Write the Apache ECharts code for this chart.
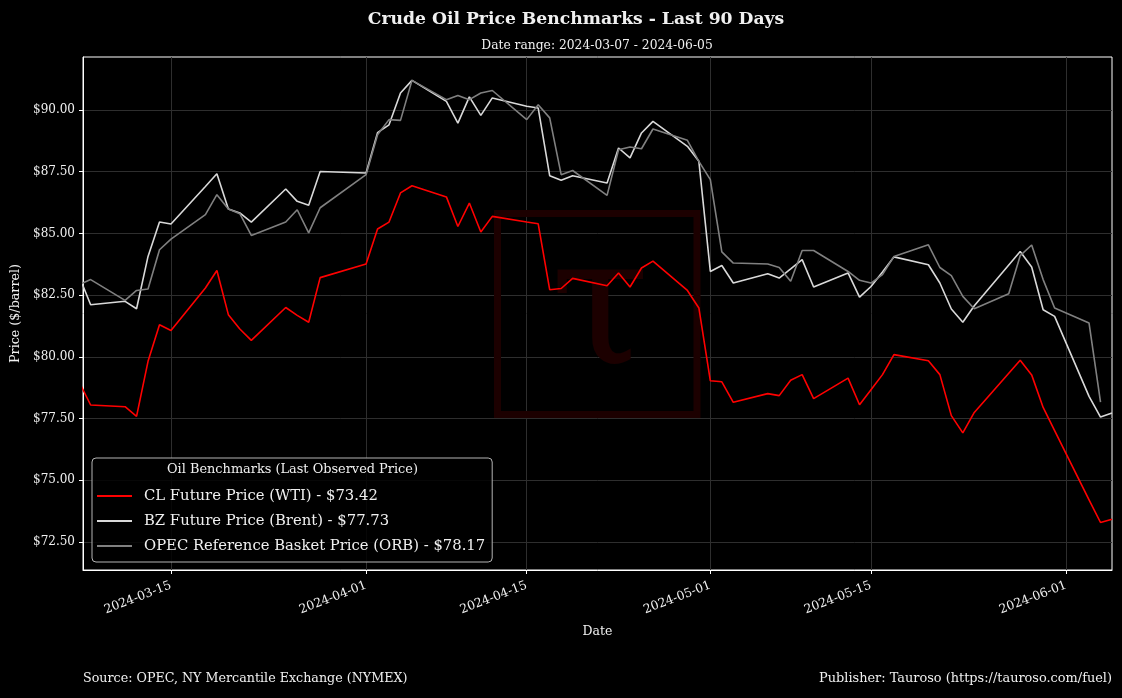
<!DOCTYPE html>
<html>
<head>
<meta charset="utf-8">
<title>Crude Oil Price Benchmarks - Last 90 Days</title>
<script src="https://cdn.jsdelivr.net/npm/echarts@6/dist/echarts.min.js"></script>
<style>
  html, body { margin: 0; padding: 0; background: #000; }
  #chart { width: 1122px; height: 698px; }
</style>
</head>
<body>
<div id="chart"></div>
<script>
  // trading days shared by the two NYMEX futures
  var nymexDates = [
    '2024-03-07', '2024-03-08', '2024-03-11', '2024-03-12', '2024-03-13', '2024-03-14', '2024-03-15',
    '2024-03-18', '2024-03-19', '2024-03-20', '2024-03-21', '2024-03-22', '2024-03-25', '2024-03-26',
    '2024-03-27', '2024-03-28', '2024-04-01', '2024-04-02', '2024-04-03', '2024-04-04', '2024-04-05',
    '2024-04-08', '2024-04-09', '2024-04-10', '2024-04-11', '2024-04-12', '2024-04-15', '2024-04-16',
    '2024-04-17', '2024-04-18', '2024-04-19', '2024-04-22', '2024-04-23', '2024-04-24', '2024-04-25',
    '2024-04-26', '2024-04-29', '2024-04-30', '2024-05-01', '2024-05-02', '2024-05-03', '2024-05-06',
    '2024-05-07', '2024-05-08', '2024-05-09', '2024-05-10', '2024-05-13', '2024-05-14', '2024-05-15',
    '2024-05-16', '2024-05-17', '2024-05-20', '2024-05-21', '2024-05-22', '2024-05-23', '2024-05-24',
    '2024-05-28', '2024-05-29', '2024-05-30', '2024-05-31', '2024-06-03', '2024-06-04', '2024-06-05'
  ];
  var wtiPrices = [
    78.98, 78.05, 77.98, 77.59, 79.82, 81.30, 81.07,
    82.79, 83.50, 81.71, 81.13, 80.67, 82.00, 81.68,
    81.40, 83.21, 83.76, 85.18, 85.46, 86.64, 86.93,
    86.48, 85.28, 86.23, 85.06, 85.69, 85.46, 85.39,
    82.72, 82.77, 83.18, 82.88, 83.40, 82.83, 83.60,
    83.88, 82.69, 81.98, 79.03, 78.99, 78.16, 78.51,
    78.43, 79.05, 79.28, 78.31, 79.14, 78.06, 78.67,
    79.28, 80.09, 79.84, 79.28, 77.62, 76.92, 77.75,
    79.86, 79.27, 77.95, 77.01, 74.21, 73.29, 73.42
  ];
  var brentPrices = [
    83.26, 82.11, 82.25, 81.95, 84.07, 85.46, 85.38,
    86.90, 87.42, 85.99, 85.83, 85.46, 86.80, 86.30,
    86.14, 87.51, 87.45, 89.08, 89.40, 90.69, 91.20,
    90.35, 89.47, 90.53, 89.78, 90.49, 90.15, 90.08,
    87.34, 87.15, 87.34, 87.04, 88.46, 88.06, 89.07,
    89.54, 88.53, 87.92, 83.46, 83.70, 82.99, 83.37,
    83.19, 83.56, 83.94, 82.83, 83.40, 82.42, 82.85,
    83.44, 84.05, 83.73, 82.99, 81.94, 81.40, 82.07,
    84.27, 83.64, 81.91, 81.64, 78.40, 77.56, 77.73
  ];
  // OPEC basket is published on its own calendar
  var opecDates = [
    '2024-03-07', '2024-03-08', '2024-03-11', '2024-03-12', '2024-03-13', '2024-03-14', '2024-03-15',
    '2024-03-18', '2024-03-19', '2024-03-20', '2024-03-21', '2024-03-22', '2024-03-25', '2024-03-26',
    '2024-03-27', '2024-03-28', '2024-04-01', '2024-04-02', '2024-04-03', '2024-04-04', '2024-04-05',
    '2024-04-08', '2024-04-09', '2024-04-10', '2024-04-11', '2024-04-12', '2024-04-15', '2024-04-16',
    '2024-04-17', '2024-04-18', '2024-04-19', '2024-04-22', '2024-04-23', '2024-04-24', '2024-04-25',
    '2024-04-26', '2024-04-29', '2024-04-30', '2024-05-01', '2024-05-02', '2024-05-03', '2024-05-06',
    '2024-05-07', '2024-05-08', '2024-05-09', '2024-05-10', '2024-05-13', '2024-05-14', '2024-05-15',
    '2024-05-16', '2024-05-17', '2024-05-20', '2024-05-21', '2024-05-22', '2024-05-23', '2024-05-24',
    '2024-05-27', '2024-05-28', '2024-05-29', '2024-05-30', '2024-05-31', '2024-06-03', '2024-06-04'
  ];
  var opecPrices = [
    82.93, 83.13, 82.29, 82.69, 82.75, 84.34, 84.77,
    85.76, 86.57, 85.99, 85.80, 84.92, 85.46, 85.96,
    85.02, 86.04, 87.38, 89.00, 89.61, 89.58, 91.20,
    90.42, 90.59, 90.42, 90.69, 90.79, 89.61, 90.21,
    89.68, 87.38, 87.55, 86.54, 88.39, 88.50, 88.43,
    89.23, 88.77, 87.92, 87.18, 84.25, 83.80, 83.76,
    83.62, 83.06, 84.31, 84.31, 83.46, 83.10, 82.99,
    83.33, 84.07, 84.54, 83.62, 83.29, 82.45, 81.95,
    82.56, 84.10, 84.53, 83.13, 81.98, 81.37, 78.17
  ];
  var xTickDates = ['2024-03-15', '2024-04-01', '2024-04-15', '2024-05-01', '2024-05-15', '2024-06-01'];
  var yTicks = [72.5, 75, 77.5, 80, 82.5, 85, 87.5, 90];

  var FONT = 'DejaVu Serif';
  var TEXT = '#f0f0f0';

  function ts(d) { return +echarts.time.parse(d); }
  function pairs(dates, values) {
    return dates.map(function (d, i) { return [ts(d), values[i]]; });
  }
  function last(arr) { return arr[arr.length - 1]; }
  function money(v) { return '$' + v.toFixed(2); }

  var names = [
    'CL Future Price (WTI) - ' + money(last(wtiPrices)),
    'BZ Future Price (Brent) - ' + money(last(brentPrices)),
    'OPEC Reference Basket Price (ORB) - ' + money(last(opecPrices))
  ];
  var colors = ['#ff0000', '#d9d9d9', '#808080'];

  var DAY = 86400000;
  var xMin = ts(nymexDates[0]) + DAY / 3;
  var xMax = ts(last(nymexDates));
  var xTicks = xTickDates.map(ts);

  var myChart = echarts.init(document.getElementById('chart'));
  var option = {
    backgroundColor: '#000',
    animation: false,
    color: colors,
    title: [
      {
        text: 'Crude Oil Price Benchmarks - Last 90 Days',
        left: 571, top: 6, textAlign: 'center',
        textStyle: { color: TEXT, fontFamily: FONT, fontWeight: 'bold', fontSize: 17.2 }
      },
      {
        text: 'Date range: ' + nymexDates[0] + ' - ' + last(nymexDates),
        left: 592, top: 35, textAlign: 'center',
        textStyle: { color: TEXT, fontFamily: FONT, fontWeight: 'normal', fontSize: 12.3 }
      }
    ],
    grid: {
      left: 83, right: 10, top: 57, bottom: 128,
      show: true, borderColor: '#ffffff', borderWidth: 1,
      backgroundColor: 'transparent'
    },
    xAxis: {
      type: 'value',
      min: xMin, max: xMax,
      name: 'Date', nameLocation: 'middle', nameGap: 55,
      nameTextStyle: { color: TEXT, fontFamily: FONT, fontSize: 12.5 },
      axisLine: { show: true, lineStyle: { color: '#ffffff', width: 1 } },
      axisTick: { show: true, length: 4, lineStyle: { color: '#ffffff' }, customValues: xTicks },
      axisLabel: {
        color: TEXT, fontFamily: FONT, fontSize: 12.3, rotate: 21, margin: 15,
        customValues: xTicks,
        formatter: function (v) { return echarts.time.format(v, '{yyyy}-{MM}-{dd}', false); }
      },
      splitLine: { show: true, lineStyle: { color: '#2e2e2e', width: 1 } }
    },
    yAxis: {
      type: 'value',
      min: 71.366, max: 92.147,
      name: 'Price ($/barrel)', nameLocation: 'middle', nameGap: 60,
      nameTextStyle: { color: TEXT, fontFamily: FONT, fontSize: 12.7 },
      axisLine: { show: true, lineStyle: { color: '#ffffff', width: 1 } },
      axisTick: { show: true, length: 4, lineStyle: { color: '#ffffff' }, customValues: yTicks },
      axisLabel: {
        color: TEXT, fontFamily: FONT, fontSize: 12, margin: 8,
        customValues: yTicks,
        formatter: money
      },
      splitLine: { show: true, lineStyle: { color: '#2e2e2e', width: 1 } }
    },
    legend: {
      orient: 'vertical', left: 92, top: 458,
      padding: [30, 7, 8, 5],
      icon: 'rect', itemWidth: 35, itemHeight: 2, itemGap: 9,
      backgroundColor: 'rgba(0,0,0,0.85)',
      borderColor: '#b4b4b4', borderWidth: 1, borderRadius: 4,
      textStyle: { color: TEXT, fontFamily: FONT, fontSize: 14.8, lineHeight: 16, padding: [0, 0, 0, 7] },
      data: names
    },
    graphic: [
      // faint watermark behind the lines
      {
        type: 'rect', z: 1, silent: true,
        shape: { x: 497.5, y: 213.5, width: 199.5, height: 201 },
        style: { fill: 'none', stroke: '#1c0000', lineWidth: 7 }
      },
      {
        type: 'text', z: 1, silent: true, x: 600, y: 316,
        style: { text: 'τ', fill: '#1c0000', font: '180px "DejaVu Serif"', align: 'center', verticalAlign: 'middle' }
      },
      {
        type: 'text', z: 100, x: 292.5, y: 470,
        style: { text: 'Oil Benchmarks (Last Observed Price)', fill: TEXT, font: '12.9px "DejaVu Serif"', align: 'center', verticalAlign: 'middle' }
      },
      {
        type: 'text', x: 83, y: 679,
        style: { text: 'Source: OPEC, NY Mercantile Exchange (NYMEX)', fill: TEXT, font: '12.7px "DejaVu Serif"', align: 'left', verticalAlign: 'middle' }
      },
      {
        type: 'text', x: 1112, y: 679,
        style: { text: 'Publisher: Tauroso (https://tauroso.com/fuel)', fill: TEXT, font: '12.9px "DejaVu Serif"', align: 'right', verticalAlign: 'middle' }
      }
    ],
    series: [
      {
        name: names[0], type: 'line', showSymbol: false, symbol: 'none',
        data: pairs(nymexDates, wtiPrices),
        lineStyle: { color: colors[0], width: 1.6 }, itemStyle: { color: colors[0] }
      },
      {
        name: names[1], type: 'line', showSymbol: false, symbol: 'none',
        data: pairs(nymexDates, brentPrices),
        lineStyle: { color: colors[1], width: 1.6 }, itemStyle: { color: colors[1] }
      },
      {
        name: names[2], type: 'line', showSymbol: false, symbol: 'none',
        data: pairs(opecDates, opecPrices),
        lineStyle: { color: colors[2], width: 1.6 }, itemStyle: { color: colors[2] }
      }
    ]
  };
  myChart.setOption(option);
</script>
</body>
</html>
